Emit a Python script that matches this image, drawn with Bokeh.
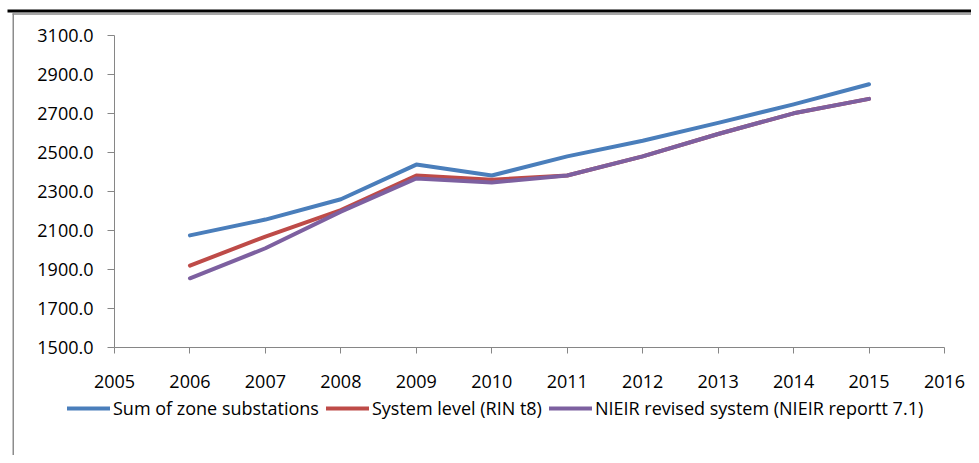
from bokeh.plotting import figure
from bokeh.models import Range1d, FixedTicker, NumeralTickFormatter, BoxAnnotation
from bokeh.embed import file_html
from bokeh.resources import INLINE

years = [2006, 2007, 2008, 2009, 2010, 2011, 2012, 2013, 2014, 2015]
sum_zone = [2075, 2156, 2260, 2438, 2382, 2480, 2560, 2652, 2747, 2850]
system_level = [1920, 2069, 2205, 2382, 2360, 2382, 2480, 2595, 2701, 2775]
nieir_revised = [1855, 2009, 2197, 2367, 2346, 2382, 2480, 2595, 2701, 2775]
x_ticks = list(range(2005, 2017))
y_ticks = [1500, 1700, 1900, 2100, 2300, 2500, 2700, 2900, 3100]

FONT = "Open Sans"
W, H = 971, 455
# axis box placement in pixels (left, right, top, bottom)
AX_L, AX_R, AX_T, AX_B = 114, 944, 35, 347
x0, x1 = x_ticks[0], x_ticks[-1]
y0, y1 = y_ticks[0], y_ticks[-1]
sx = (AX_R - AX_L) / (x1 - x0)
sy = (AX_B - AX_T) / (y1 - y0)
xr = Range1d(x0 - AX_L / sx, x0 + (W - AX_L) / sx)
yr = Range1d(y1 - (H - AX_T) / sy, y1 + AX_T / sy)

p = figure(width=W, height=H, output_backend="svg", toolbar_location=None,
           x_range=xr, y_range=yr, min_border=0,
           min_border_left=0, min_border_right=0, min_border_top=0, min_border_bottom=0)
p.outline_line_color = None
p.xgrid.visible = False
p.ygrid.visible = False

p.line(years, sum_zone, line_color="#4A7EBB", line_width=4, line_cap="round", line_join="round",
       legend_label="Sum of zone substations")
p.line(years, system_level, line_color="#BE4B48", line_width=4, line_cap="round", line_join="round",
       legend_label="System level (RIN t8)")
p.line(years, nieir_revised, line_color="#7D60A0", line_width=4, line_cap="round", line_join="round",
       legend_label="NIEIR revised system (NIEIR reportt 7.1)")

for ax in (p.xaxis[0], p.yaxis[0]):
    ax.axis_line_color = "#868686"
    ax.major_tick_line_color = "#868686"
    ax.minor_tick_line_color = None
    ax.major_tick_in = 0
    ax.major_label_text_font = FONT
    ax.major_label_text_font_size = "18px"
    ax.major_label_text_color = "#000000"

p.xaxis.ticker = FixedTicker(ticks=x_ticks)
p.xaxis.bounds = (x0, x1)
p.xaxis.fixed_location = y0
p.xaxis.major_tick_out = 6
p.xaxis.major_label_standoff = 21
p.yaxis.ticker = FixedTicker(ticks=y_ticks)
p.yaxis.bounds = (y0, y1)
p.yaxis.fixed_location = x0
p.yaxis.formatter = NumeralTickFormatter(format="0.0")
p.yaxis.major_tick_out = 7
p.yaxis.major_label_standoff = 14

lg = p.legend[0]
lg.orientation = "horizontal"
lg.location = (67, 35)
lg.padding = 0
lg.margin = 0
lg.spacing = 7
lg.glyph_width = 43
lg.glyph_height = 20
lg.label_height = 20
lg.label_standoff = 3
lg.background_fill_alpha = 0
lg.border_line_alpha = 0
lg.label_text_font = FONT
lg.label_text_font_size = "18px"
lg.label_text_color = "#000000"

# chart frame decorations
def deco(l, r, t, b, c):
    p.add_layout(BoxAnnotation(left=l, right=r, top=t, bottom=b, left_units="canvas", right_units="canvas",
                               top_units="canvas", bottom_units="canvas", fill_color=c, fill_alpha=1,
                               line_color=None, level="underlay"))

deco(7, W, 9, 12, "#000000")
deco(12, W, 12.5, 14.5, "#a6a6a6")
deco(12, 13.5, 13, H, "#8c8c8c")

open("out.html", "w").write(file_html(p, INLINE))
